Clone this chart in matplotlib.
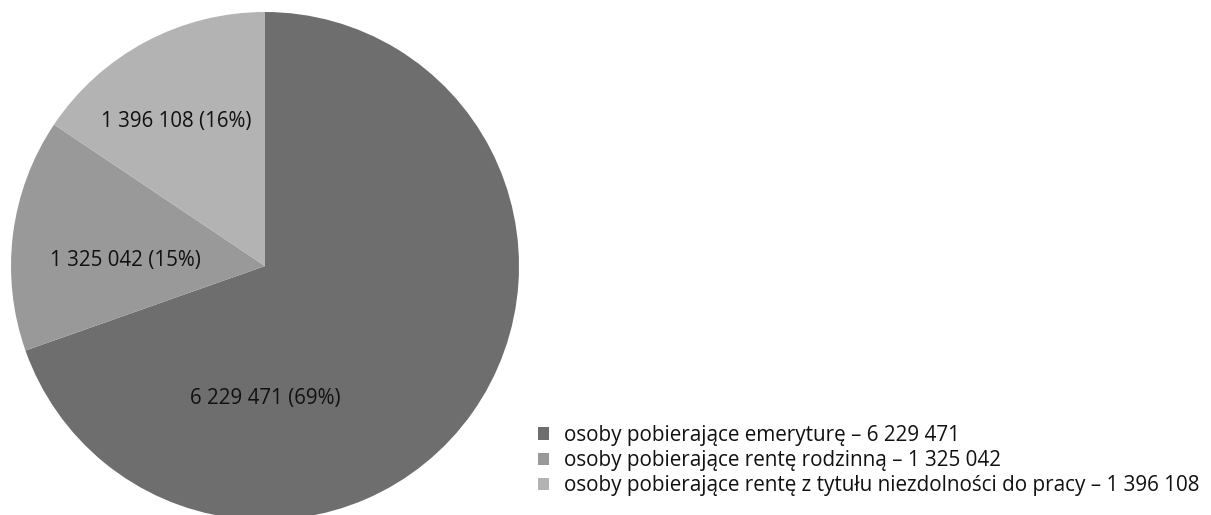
import matplotlib.pyplot as plt

plt.rcParams['font.family'] = ['Open Sans', 'DejaVu Sans']

# liczba osób wg rodzaju świadczenia
categories = ['osoby pobierające emeryturę',
              'osoby pobierające rentę rodzinną',
              'osoby pobierające rentę z tytułu niezdolności do pracy']
values = [6229471, 1325042, 1396108]
percents = [69, 15, 16]
colors = ['#6e6e6e', '#999999', '#b3b3b3']


def fmt(n):
    return f'{n:,}'.replace(',', ' ')


W, H = 1211, 515
fig = plt.figure(figsize=(W / 100, H / 100), dpi=100)

# pie centre (265, 266) px from top-left, radius 254 px
cx, cy, r = 265, H - 266, 254
ax = fig.add_axes([(cx - r) / W, (cy - r) / H, 2 * r / W, 2 * r / H])
wedges, _ = ax.pie(values, colors=colors, startangle=90, counterclock=False,
                   wedgeprops=dict(linewidth=0))
ax.set_xlim(-1, 1)
ax.set_ylim(-1, 1)
ax.set_aspect('equal')
ax.axis('off')

# data labels in pie units
label_pos = [(0.0, -0.52), (-0.55, 0.02), (-0.35, 0.57)]
for v, p, (x, y) in zip(values, percents, label_pos):
    ax.text(x, y, f'{fmt(v)} ({p}%)', ha='center', va='center',
            fontsize=14.8, color='#111111')

legend_labels = [f'{c} – {fmt(v)}' for c, v in zip(categories, values)]
fig.legend(wedges, legend_labels, loc='upper left',
           bbox_to_anchor=(538 / W, 1 - 425 / H), frameon=False,
           fontsize=14.9, handlelength=0.55, handleheight=0.55,
           handletextpad=0.7, labelspacing=0.2, borderpad=0,
           borderaxespad=0, labelcolor='#111111')

fig.savefig('out.png', dpi=100)
